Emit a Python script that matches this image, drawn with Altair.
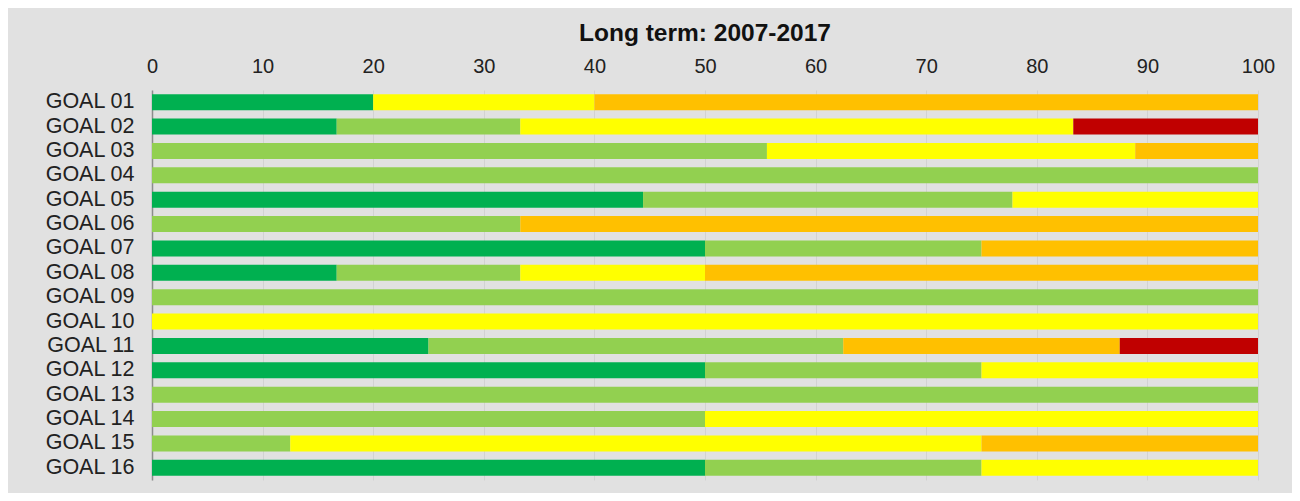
import altair as alt
import pandas as pd

goals = [f"GOAL {i:02d}" for i in range(1, 17)]
categories = ["Dark green", "Light green", "Yellow", "Orange", "Red"]
colors = ["#00b050", "#92d050", "#ffff00", "#ffc000", "#c00000"]

dark_green  = [20, 16.7, 0, 0, 44.4, 0, 50, 16.7, 0, 0, 25, 50, 0, 0, 0, 50]
light_green = [0, 16.6, 55.6, 100, 33.4, 33.3, 25, 16.6, 100, 0, 37.5, 25, 100, 50, 12.5, 25]
yellow      = [20, 50, 33.3, 0, 22.2, 0, 0, 16.7, 0, 100, 0, 25, 0, 50, 62.5, 25]
orange      = [60, 0, 11.1, 0, 0, 66.7, 25, 50, 0, 0, 25, 0, 0, 0, 25, 0]
red         = [0, 16.7, 0, 0, 0, 0, 0, 0, 0, 0, 12.5, 0, 0, 0, 0, 0]

series = [dark_green, light_green, yellow, orange, red]
rows = []
for gi, g in enumerate(goals):
    for ci, c in enumerate(categories):
        v = series[ci][gi]
        if v > 0:
            rows.append({"goal": g, "cat": c, "order": ci, "value": v})
df = pd.DataFrame(rows)

bg = "#e1e1e1"

chart = alt.Chart(df).mark_bar().encode(
    y=alt.Y("goal:N", sort=goals,
            scale=alt.Scale(paddingInner=0.34, paddingOuter=0.17),
            axis=alt.Axis(title=None, labelFontSize=21.5, labelColor="#222222",
                          labelFont="Liberation Sans", labelPadding=18,
                          ticks=False, domain=True, domainColor="#8c8c8c",
                          domainWidth=1.5, grid=False)),
    x=alt.X("value:Q", stack="zero",
            scale=alt.Scale(domain=[0, 100], nice=False),
            axis=alt.Axis(orient="top", title=None, values=list(range(0, 101, 10)),
                          labelFontSize=20, labelColor="#222222",
                          labelFont="Liberation Sans", labelPadding=14,
                          labelFlush=False,
                          ticks=False, domain=False, grid=True,
                          gridColor="#d2d2d2", gridWidth=1)),
    color=alt.Color("cat:N", sort=categories,
                    scale=alt.Scale(domain=categories, range=colors), legend=None),
    order=alt.Order("order:Q"),
).properties(
    width=1106,
    height=390,
    title=alt.TitleParams("Long term: 2007-2017", fontSize=24.5, fontWeight="bold",
                          font="Liberation Sans", color="#111111", offset=10,
                          anchor="middle"),
    background=bg,
    padding={"left": 144, "top": 82, "right": 34, "bottom": 13},
    autosize=alt.AutoSizeParams(type="none"),
).configure_view(stroke=None, fill=bg)

chart.save("out.html", embed_options={"renderer": "svg", "actions": False})
